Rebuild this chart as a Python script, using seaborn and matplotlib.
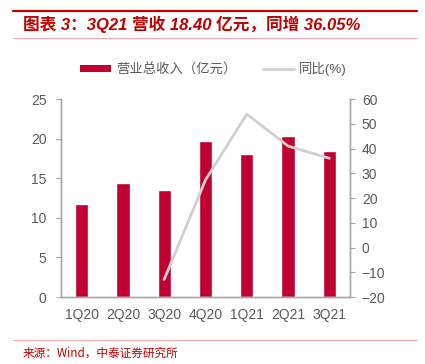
import matplotlib
matplotlib.use("Agg")
import matplotlib.pyplot as plt
import numpy as np
import pandas as pd
import seaborn as sns
from matplotlib.lines import Line2D
from matplotlib.patches import Patch

quarters = ["1Q20", "2Q20", "3Q20", "4Q20", "1Q21", "2Q21", "3Q21"]
revenue = [11.75, 14.40, 13.50, 19.72, 18.05, 20.30, 18.40]
yoy_quarters = ["3Q20", "4Q20", "1Q21", "2Q21", "3Q21"]
yoy = [-12.9, 27.3, 53.9, 41.0, 36.05]

RED = "#C00030"
GRAY_LINE = "#D0D0D0"
AXIS_GRAY = "#A6A6A6"
TEXT_GRAY = "#595959"

sns.set_style("white")
plt.rcParams["font.family"] = ["Liberation Sans", "Noto Sans CJK SC", "DejaVu Sans"]

fig = plt.figure(figsize=(4.25, 3.64), dpi=100)
ax = fig.add_axes([0.1435, 0.184, 0.68, 0.544])

df = pd.DataFrame({"quarter": quarters, "revenue": revenue})
sns.barplot(data=df, x="quarter", y="revenue", color=RED, width=0.32,
            saturation=1, ax=ax)
ax.set_xlim(-0.5, len(quarters) - 0.5)
ax.set_ylim(0, 25)
ax.set_yticks([0, 5, 10, 15, 20, 25])
ax.set_xlabel("")
ax.set_ylabel("")

ax2 = ax.twinx()
line_df = pd.DataFrame({"pos": [quarters.index(q) for q in yoy_quarters], "yoy": yoy})
sns.lineplot(data=line_df, x="pos", y="yoy", color=GRAY_LINE, linewidth=2, ax=ax2)
ax2.set_ylim(-20, 60)
ax2.set_yticks(range(-20, 61, 10))
ax2.set_ylabel("")
ax2.set_xlim(-0.5, len(quarters) - 0.5)

# category ticks sit on the boundaries between bars
ax.set_xticks(np.arange(len(quarters)))
ax.set_xticklabels(quarters)
ax.set_xticks(np.arange(-0.5, len(quarters), 1), minor=True)
ax.tick_params(axis="x", which="major", length=0, pad=8, labelsize=10, labelcolor=TEXT_GRAY)
ax.tick_params(axis="x", which="minor", length=4, color=AXIS_GRAY, direction="out")
ax.tick_params(axis="y", length=3.5, color=AXIS_GRAY, direction="out", labelsize=10,
               labelcolor=TEXT_GRAY, left=True, pad=7)
ax2.tick_params(axis="y", length=3.5, color=AXIS_GRAY, direction="out", labelsize=10,
                labelcolor=TEXT_GRAY, right=True, pad=5)

for a in (ax, ax2):
    a.spines["top"].set_visible(False)
    for side in ("left", "right", "bottom"):
        a.spines[side].set_color(AXIS_GRAY)
        a.spines[side].set_linewidth(1)

handles = [Patch(facecolor=RED, edgecolor="none"),
           Line2D([0], [0], color=GRAY_LINE, linewidth=2)]
fig.legend(handles, ["营业总收入（亿元）", "同比(%)"], loc="center",
           bbox_to_anchor=(0.502, 0.81), ncol=2, frameon=False, fontsize=9.6,
           labelcolor=TEXT_GRAY, handlelength=2.3, handleheight=0.4, columnspacing=2.0,
           handletextpad=0.4)

# header and footer rules
fig.add_artist(Line2D([0.031, 0.982], [0.970, 0.970], color="#C00000", linewidth=1.6))
fig.add_artist(Line2D([0.031, 0.982], [0.896, 0.896], color="#F2AAAA", linewidth=0.8))
fig.add_artist(Line2D([0.031, 0.982], [0.066, 0.066], color="#F2AAAA", linewidth=0.8))
fig.text(0.054, 0.932, "图表 3：3Q21 营收 18.40 亿元，同增 36.05%", color="#C00000",
         fontsize=12, fontweight="bold", style="italic", ha="left", va="center")
fig.text(0.054, 0.030, "来源：Wind，中泰证券研究所",
         family=["Noto Sans CJK SC", "DejaVu Sans"], color="#C00000", fontsize=8.4,
         ha="left", va="center")

fig.savefig("out.png", dpi=100)
